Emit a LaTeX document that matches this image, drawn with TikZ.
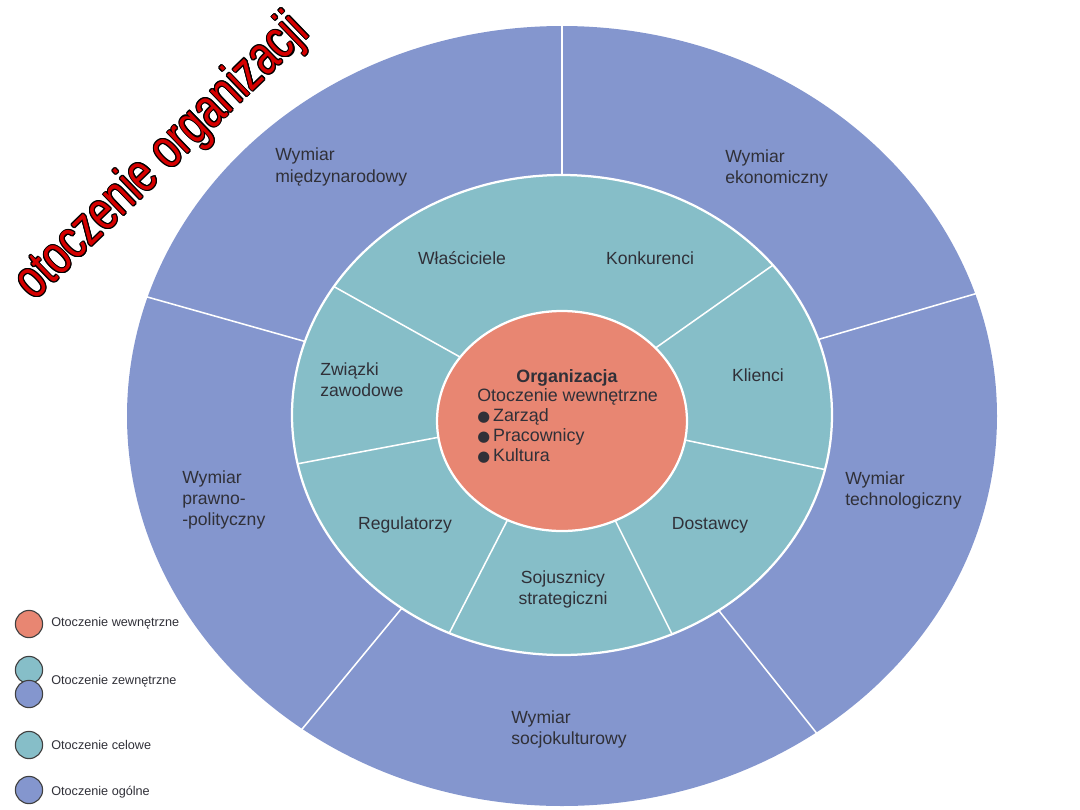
\documentclass[tikz,border=0pt]{standalone}
\usepackage{fontspec}
\setmainfont{Liberation Sans}
\newfontfamily\titlefont[FakeStretch=0.75]{Liberation Sans}
\newfontfamily\symfont{DejaVu Sans}
\usetikzlibrary{calc}

\definecolor{ogolne}{RGB}{132,150,206}
\definecolor{celowe}{RGB}{134,190,200}
\definecolor{wewn}{RGB}{232,134,114}
\definecolor{napis}{RGB}{48,48,56}
\definecolor{tytul}{RGB}{214,0,0}

\newcommand{\kropka}{{\symfont\fontsize{10.5}{10}\selectfont ●}\,}

\begin{document}
\begin{tikzpicture}[
  x=0.025cm, y=-0.025cm,
  lbl/.style={inner sep=0pt, text=napis, font=\fontsize{12.5}{15}\selectfont},
  lbll/.style={lbl, anchor=west, align=left},
  divider/.style={draw=white, line width=1.1pt},
  rim/.style={draw=white, line width=1.6pt},
  leg/.style={circle, draw=black!75, line width=0.8pt, minimum size=0.68cm,
              inner sep=0pt},
  legtxt/.style={anchor=west, inner sep=0pt, text=napis,
                 font=\fontsize{9}{10}\selectfont},
  title/.style={rotate=44, inner sep=0pt,
                font=\titlefont\fontsize{39}{39}\selectfont}
]
  \useasboundingbox (0,0) rectangle (1080,810);
  \coordinate (c) at (562,414);

  % Otoczenie ogolne
  \fill[ogolne] (562,416) ellipse [x radius=435, y radius=390];
  \foreach \p in {(562,0), (80,278), (1040,275), (270,768), (850,775)}
    \draw[divider] (c) -- \p;

  % Otoczenie celowe
  \fill[celowe] (562,415) ellipse [x radius=270, y radius=240];
  \begin{scope}
    \clip (562,415) ellipse [x radius=270, y radius=240];
    \foreach \p in {(290,262), (270,469), (420,690), (700,690),
                    (860,477), (800,246)}
      \draw[divider] (c) -- \p;
  \end{scope}
  \draw[rim] (562,415) ellipse [x radius=270, y radius=240];

  % Organizacja
  \filldraw[rim, fill=wewn] (562,421) ellipse [x radius=125, y radius=110];

  % Wymiary
  \node[lbll] (mied) at (275,167) {Wymiar\\międzynarodowy};
  \node[lbll] (ekon) at (725,168) {Wymiar\\ekonomiczny};
  \node[lbll] (praw) at (182,500) {Wymiar\\prawno-\\-polityczny};
  \node[lbll] (tech) at (845,490) {Wymiar\\technologiczny};
  \node[lbll] (socj) at (511,729) {Wymiar\\socjokulturowy};

  % Otoczenie celowe - grupy
  \node[lbl] (wlas) at (462,258) {Właściciele};
  \node[lbl] (konk) at (650,258) {Konkurenci};
  \node[lbll] (zwia) at (320,380) {Związki\\zawodowe};
  \node[lbl] (klie) at (758,375) {Klienci};
  \node[lbl] (regu) at (405,525) {Regulatorzy};
  \node[lbl] (dost) at (710,525) {Dostawcy};
  \node[lbl, align=center] (soju) at (563,589) {Sojusznicy\\strategiczni};

  % Srodek
  \node[lbl, font=\bfseries\fontsize{12.7}{14.2}\selectfont]
    (orgn) at (567,378) {Organizacja};
  \node[lbll, font=\fontsize{12.7}{14.2}\selectfont] (orgt) at (477,426)
    {Otoczenie wewnętrzne\\\kropka Zarząd\\\kropka Pracownicy\\\kropka Kultura};

  % Legenda
  \node[leg, fill=wewn] (lwew) at (29,624) {};
  \node[leg, fill=celowe] (lzew1) at (29,670) {};
  \node[leg, fill=ogolne] (lzew2) at (29,694) {};
  \node[leg, fill=celowe] (lcel) at (29,745) {};
  \node[leg, fill=ogolne] (logo) at (29,790) {};
  \node[legtxt] (twew) at (51,623) {Otoczenie wewnętrzne};
  \node[legtxt] (tzew) at (51,681) {Otoczenie zewnętrzne};
  \node[legtxt] (tcel) at (51,745) {Otoczenie celowe};
  \node[legtxt] (togo) at (51,792) {Otoczenie ogólne};

  % Tytul z obwodka
  \foreach \a in {0,30,...,330}
    \node[title, text=black, shift={(\a:0.75pt)}] (cien\a) at (163,158)
      {otoczenie organizacji};
  \node[title, text=tytul] (tyt) at (163,158) {otoczenie organizacji};
\end{tikzpicture}
\end{document}
